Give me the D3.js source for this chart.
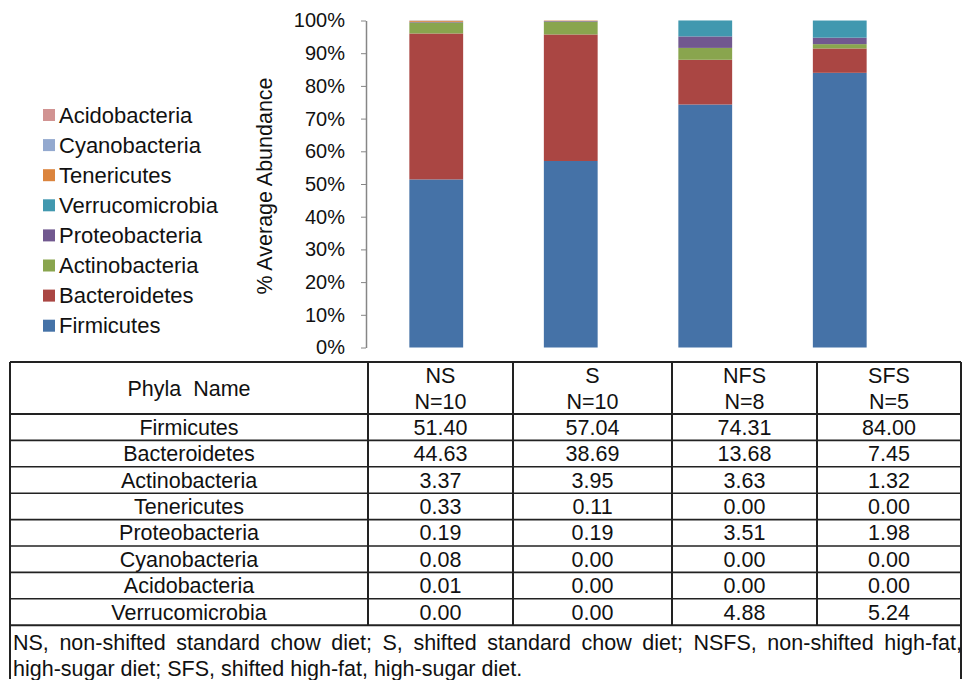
<!DOCTYPE html>
<meta charset="utf-8">
<html><head>
<style>
body { margin: 0; background: #fff; }
text {
  font-family: "Liberation Sans", Arial, sans-serif;
  fill: #111;
}
.axis path, .axis line { stroke: #868686; }
.axis text { font-size: 20px; fill: #111; }
</style>
</head>
<body>
<svg width="963" height="680"></svg>
<script src="https://cdn.jsdelivr.net/npm/d3@7"></script>
<script>

// groups (columns of the table, bars of the chart)
var groups = ["NS", "S", "NFS", "SFS"];
var groupN = ["N=10", "N=10", "N=8", "N=5"];

// phyla in table order
var phyla = ["Firmicutes", "Bacteroidetes", "Actinobacteria", "Tenericutes",
             "Proteobacteria", "Cyanobacteria", "Acidobacteria", "Verrucomicrobia"];

// % average abundance per phylum, one value per group
var firmicutes      = [51.40, 57.04, 74.31, 84.00];
var bacteroidetes   = [44.63, 38.69, 13.68, 7.45];
var actinobacteria  = [3.37, 3.95, 3.63, 1.32];
var tenericutes     = [0.33, 0.11, 0.00, 0.00];
var proteobacteria  = [0.19, 0.19, 3.51, 1.98];
var cyanobacteria   = [0.08, 0.00, 0.00, 0.00];
var acidobacteria   = [0.01, 0.00, 0.00, 0.00];
var verrucomicrobia = [0.00, 0.00, 4.88, 5.24];

// stacking order, bottom to top
var stackOrder = ["Firmicutes", "Bacteroidetes", "Actinobacteria", "Proteobacteria",
                  "Verrucomicrobia", "Tenericutes", "Cyanobacteria", "Acidobacteria"];

var yTicks = [0, 10, 20, 30, 40, 50, 60, 70, 80, 90, 100];

var footnote1 = "NS, non-shifted standard chow diet; S, shifted standard chow diet; NSFS, non-shifted high-fat,";
var footnote2 = "high-sugar diet; SFS, shifted high-fat, high-sugar diet.";

var values = {
  "Firmicutes": firmicutes,
  "Bacteroidetes": bacteroidetes,
  "Actinobacteria": actinobacteria,
  "Tenericutes": tenericutes,
  "Proteobacteria": proteobacteria,
  "Cyanobacteria": cyanobacteria,
  "Acidobacteria": acidobacteria,
  "Verrucomicrobia": verrucomicrobia
};

var color = d3.scaleOrdinal()
    .domain(stackOrder)
    .range(["#4572A7", "#AA4643", "#89A54E", "#71588F",
            "#4198AF", "#DB843D", "#93A9CF", "#D19392"]);

var svg = d3.select("svg");
var tableFont = "21.5px";

// ---------- chart ----------
var x = d3.scaleBand()
    .domain(groups)
    .range([369, 907])
    .paddingInner(0.6)
    .paddingOuter(0.3);

var y = d3.scaleLinear()
    .domain([0, 100])
    .range([347.5, 20.5]);

var rows = groups.map(function(g, i) {
  var r = { group: g };
  stackOrder.forEach(function(p) { r[p] = values[p][i]; });
  return r;
});

var series = d3.stack().keys(stackOrder)(rows);

svg.append("g")
  .selectAll("g")
  .data(series)
  .enter().append("g")
    .attr("fill", function(d) { return color(d.key); })
  .selectAll("rect")
  .data(function(d) { return d; })
  .enter().append("rect")
    .attr("x", function(d) { return x(d.data.group); })
    .attr("width", x.bandwidth())
    .attr("y", function(d) { return y(d[1]); })
    .attr("height", function(d) { return Math.max(0, y(d[0]) - y(d[1])); });

var yAxis = svg.append("g")
    .attr("class", "axis")
    .attr("transform", "translate(366,0)")
    .call(d3.axisLeft(y)
      .tickValues(yTicks)
      .tickSize(5)
      .tickSizeOuter(0)
      .tickPadding(16)
      .tickFormat(function(d) { return d + "%"; }));
yAxis.select(".domain").attr("stroke-width", 1.5);

svg.append("text")
    .attr("transform", "translate(272,186) rotate(-90)")
    .attr("text-anchor", "middle")
    .style("font-size", "21.5px")
    .text("% Average Abundance");

// legend, top entry is the top of the stack
var legend = svg.append("g")
  .selectAll("g")
  .data(stackOrder.slice().reverse())
  .enter().append("g")
    .attr("transform", function(d, i) { return "translate(43," + (115 + i * 30.1) + ")"; });

legend.append("rect")
    .attr("x", 0).attr("y", -6)
    .attr("width", 12).attr("height", 12)
    .attr("fill", function(d) { return color(d); });

legend.append("text")
    .attr("x", 16)
    .attr("dy", "0.35em")
    .style("font-size", "22px")
    .text(function(d) { return d; });

// ---------- table ----------
var colEdges = [10, 368, 513, 672, 817, 961];
var tableTop = 362, headH = 52, rowH = 26.4;
var bodyTop = tableTop + headH;
var bodyBottom = bodyTop + phyla.length * rowH;
var tableBottom = 679;
var fmt = d3.format(".2f");

var table = svg.append("g");

// horizontal lines
var hLines = [tableTop].concat(d3.range(phyla.length + 1).map(function(i) { return bodyTop + i * rowH; }));
table.selectAll("line.h")
  .data(hLines)
  .enter().append("line")
    .attr("x1", colEdges[0]).attr("x2", colEdges[colEdges.length - 1])
    .attr("y1", function(d) { return d; }).attr("y2", function(d) { return d; })
    .attr("stroke", "#222")
    .attr("stroke-width", function(d, i) { return (i === 0 || i === 1 || i === hLines.length - 1) ? 2 : 1.6; });

// vertical lines
table.selectAll("line.v")
  .data(colEdges)
  .enter().append("line")
    .attr("x1", function(d) { return d; }).attr("x2", function(d) { return d; })
    .attr("y1", tableTop)
    .attr("y2", function(d, i) { return (i === 0 || i === colEdges.length - 1) ? tableBottom : bodyBottom; })
    .attr("stroke", "#222")
    .attr("stroke-width", 2);

function colCenter(i) { return (colEdges[i] + colEdges[i + 1]) / 2; }

// header
table.append("text")
    .attr("x", colCenter(0))
    .attr("y", tableTop + 26)
    .attr("dy", "0.35em")
    .attr("text-anchor", "middle")
    .style("font-size", tableFont)
    .style("white-space", "pre")
    .text("Phyla  Name");

groups.forEach(function(g, i) {
  table.append("text")
      .attr("x", colCenter(i + 1))
      .attr("y", tableTop + 13)
      .attr("dy", "0.35em")
      .attr("text-anchor", "middle")
      .style("font-size", tableFont)
      .text(g);
  table.append("text")
      .attr("x", colCenter(i + 1))
      .attr("y", tableTop + 39)
      .attr("dy", "0.35em")
      .attr("text-anchor", "middle")
      .style("font-size", tableFont)
      .text(groupN[i]);
});

// body rows
phyla.forEach(function(p, r) {
  var cy = bodyTop + r * rowH + rowH / 2;
  table.append("text")
      .attr("x", colCenter(0))
      .attr("y", cy)
      .attr("dy", "0.35em")
      .attr("text-anchor", "middle")
      .style("font-size", tableFont)
      .text(p);
  values[p].forEach(function(v, i) {
    table.append("text")
        .attr("x", colCenter(i + 1))
        .attr("y", cy)
        .attr("dy", "0.35em")
        .attr("text-anchor", "middle")
        .style("font-size", tableFont)
        .text(fmt(v));
  });
});

// footnote, first line justified to the table width
function justified(str, x0, x1, yPos) {
  var words = str.split(" ");
  var g = table.append("g");
  var nodes = words.map(function(w) {
    return g.append("text")
        .attr("y", yPos)
        .attr("dy", "0.35em")
        .style("font-size", tableFont)
        .text(w);
  });
  var widths = nodes.map(function(n) { return n.node().getComputedTextLength(); });
  var gap = (x1 - x0 - d3.sum(widths)) / (words.length - 1);
  var cx = x0;
  nodes.forEach(function(n, i) {
    n.attr("x", cx);
    cx += widths[i] + gap;
  });
}

justified(footnote1, 13, 962, 642);

table.append("text")
    .attr("x", 13)
    .attr("y", 668)
    .attr("dy", "0.35em")
    .style("font-size", tableFont)
    .text(footnote2);

</script>
</body>
</html>
